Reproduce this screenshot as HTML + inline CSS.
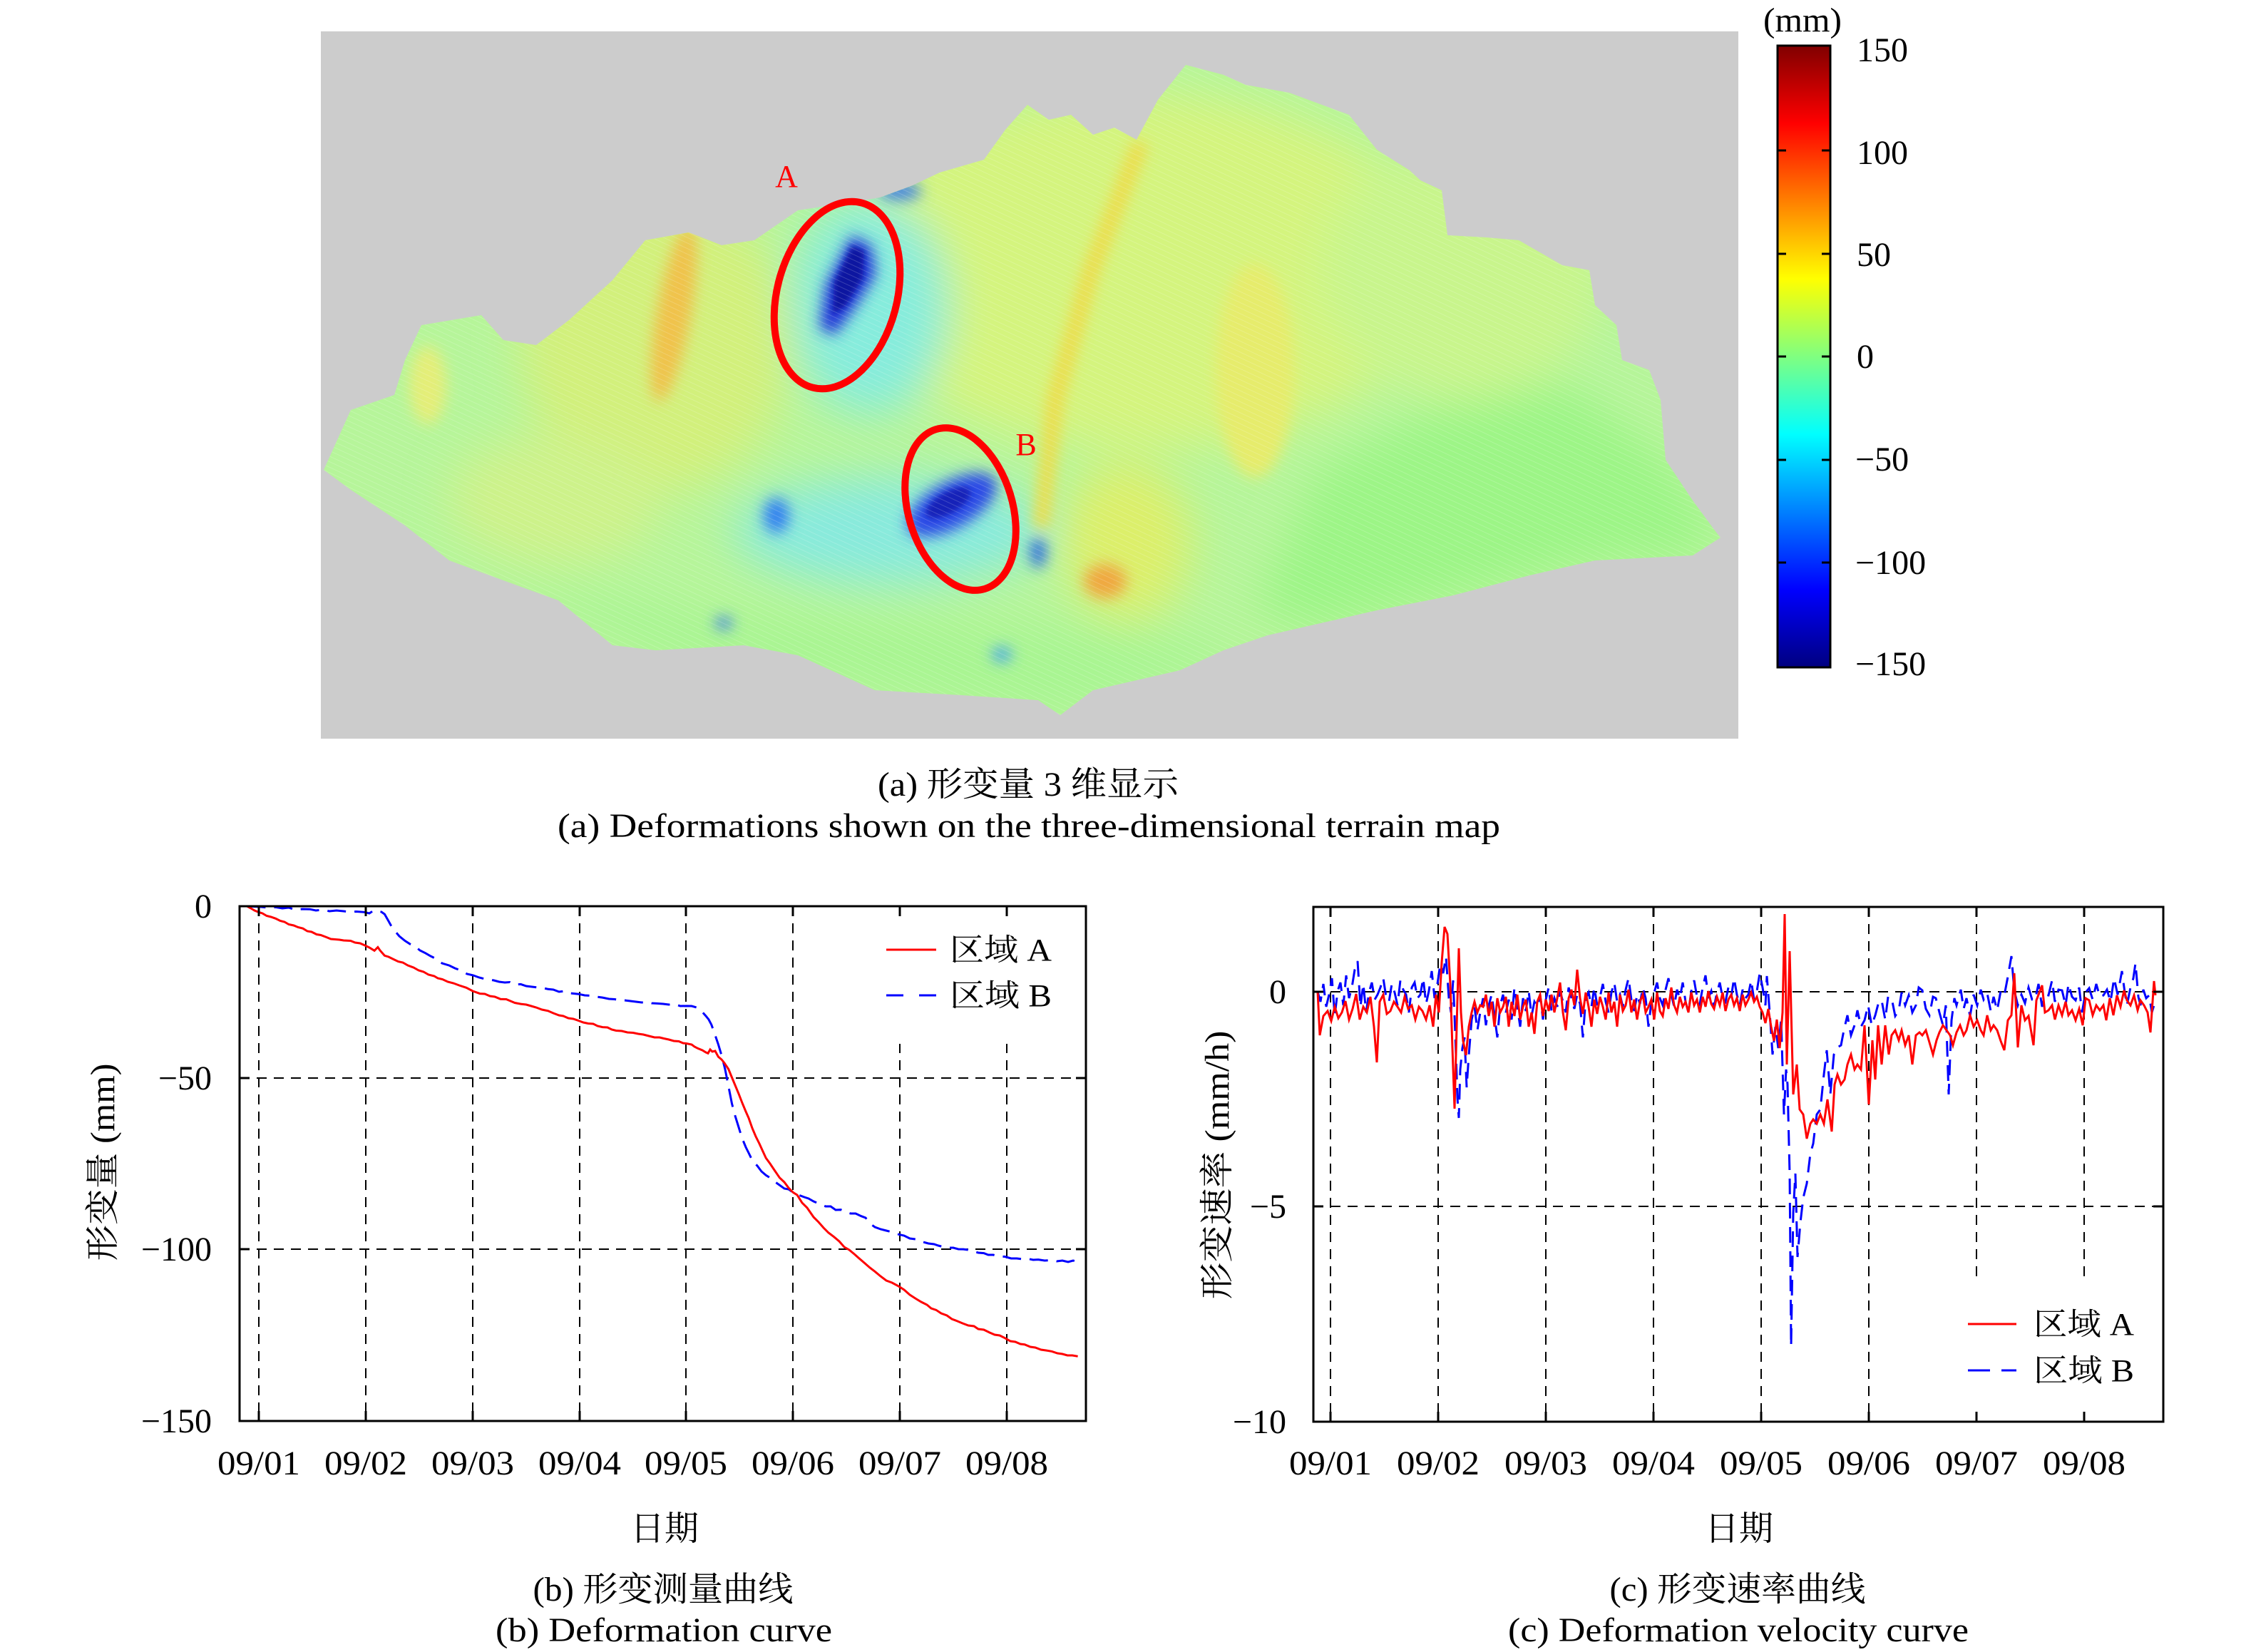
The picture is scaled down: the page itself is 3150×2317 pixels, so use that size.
<!DOCTYPE html>
<html><head><meta charset="utf-8"><style>
html,body{margin:0;padding:0;background:#fff;}
svg{display:block;}
text{font-family:"Liberation Serif","Noto Serif CJK SC",serif;fill:#000;}
</style></head><body>
<svg width="3150" height="2317" viewBox="0 0 3150 2317" xmlns="http://www.w3.org/2000/svg">
<defs>
<linearGradient id="jet" x1="0" y1="0" x2="0" y2="1">
<stop offset="0" stop-color="#800000"/><stop offset="0.125" stop-color="#ff0000"/>
<stop offset="0.375" stop-color="#ffff00"/><stop offset="0.5" stop-color="#80ff80"/>
<stop offset="0.625" stop-color="#00ffff"/><stop offset="0.875" stop-color="#0000ff"/>
<stop offset="1" stop-color="#000080"/></linearGradient>
<clipPath id="terr"><polygon points="454,659 492,575 553,554 568,505 591,456 675,442 706,477 752,484 798,449 859,393 905,337 966,326 1012,344 1058,337 1119,295 1211,281 1234,277 1280,260 1318,242 1380,224 1410,182 1441,147 1471,168 1502,161 1533,189 1563,179 1594,196 1624,140 1663,91 1716,105 1747,119 1808,130 1854,147 1892,161 1931,210 1977,239 1992,253 2022,267 2030,330 2084,333 2130,337 2191,372 2229,379 2237,428 2267,456 2275,505 2313,519 2329,561 2336,645 2374,702 2405,744 2413,754 2374,779 2237,786 2145,807 2038,835 1931,856 1839,877 1778,891 1716,912 1655,940 1594,954 1533,968 1487,1003 1456,982 1349,975 1227,968 1181,947 1119,919 1043,905 920,912 859,905 783,842 706,814 630,786 568,737 492,687"/></clipPath>
<filter id="b30" x="-50%" y="-50%" width="200%" height="200%"><feGaussianBlur stdDeviation="30"/></filter>
<filter id="b10" x="-50%" y="-50%" width="200%" height="200%"><feGaussianBlur stdDeviation="10"/></filter>
<filter id="b4" x="-50%" y="-50%" width="200%" height="200%"><feGaussianBlur stdDeviation="4"/></filter>
<pattern id="mesh" width="7" height="7" patternUnits="userSpaceOnUse" patternTransform="rotate(-65)">
<line x1="0" y1="0" x2="0" y2="7" stroke="#ffffff" stroke-width="1.6"/></pattern>
</defs>

<!-- ===== (a) terrain ===== -->
<rect x="450" y="44" width="1988" height="992" fill="#cccccc"/>
<g clip-path="url(#terr)">
<rect x="440" y="40" width="2000" height="1000" fill="#b6f59a"/>
<g filter="url(#b30)">
<ellipse cx="1600" cy="380" rx="420" ry="250" fill="#d4f47e"/>
<ellipse cx="920" cy="480" rx="190" ry="210" fill="#d2f07c"/>
<ellipse cx="780" cy="700" rx="150" ry="90" fill="#cdf28a"/>
<ellipse cx="2050" cy="380" rx="200" ry="180" fill="#c8f58c"/>
<polygon points="1850,660 2000,580 2200,540 2336,645 2413,754 2374,779 2237,786 2038,835 1850,880 1760,860" fill="#9cf586"/>
<polygon points="700,820 1000,860 1500,880 1716,900 1716,930 1487,1003 1227,968 920,920 783,850" fill="#a8f592"/>
<ellipse cx="1220" cy="430" rx="110" ry="150" fill="#86ecdc"/>
<ellipse cx="1250" cy="745" rx="220" ry="75" fill="#88eadc"/>
<ellipse cx="1580" cy="760" rx="90" ry="110" fill="#dcef6a"/>
</g>
<g filter="url(#b10)">
<ellipse cx="945" cy="440" rx="24" ry="125" transform="rotate(10 945 440)" fill="#f0c24c"/>
<ellipse cx="1550" cy="815" rx="30" ry="24" fill="#f0a840"/>
<ellipse cx="1760" cy="520" rx="55" ry="150" fill="#e6ec6c"/>
<path d="M1600,200 L1530,380 L1480,560 L1460,740" stroke="#eedc48" stroke-width="22" fill="none"/>
<ellipse cx="600" cy="540" rx="26" ry="55" fill="#e4ee78"/>
<polygon points="1195,330 1222,345 1228,385 1200,430 1170,470 1150,460 1158,400" fill="#2036d8"/>
<ellipse cx="1335" cy="708" rx="70" ry="32" transform="rotate(-30 1335 708)" fill="#2a4ae6"/>
<ellipse cx="1089" cy="723" rx="18" ry="25" fill="#3080f0"/>
<ellipse cx="1456" cy="775" rx="10" ry="22" fill="#2060e0"/>
<ellipse cx="1015" cy="874" rx="12" ry="8" fill="#3070f0"/>
<ellipse cx="1405" cy="918" rx="14" ry="10" fill="#40a0f0"/>
<ellipse cx="1262" cy="268" rx="30" ry="12" fill="#3a7ae6"/>
</g>
<g filter="url(#b4)">
<polygon points="1195,345 1212,352 1210,390 1185,430 1168,440 1170,395" fill="#0c12a0"/>
<ellipse cx="1330" cy="705" rx="35" ry="15" transform="rotate(-30 1330 705)" fill="#1624b8"/>
</g>
<rect x="440" y="40" width="2000" height="1000" fill="url(#mesh)" opacity="0.22"/>
</g>
<ellipse cx="1174" cy="414" rx="84" ry="134" transform="rotate(15 1174 414)" fill="none" stroke="#ff0000" stroke-width="10"/>
<ellipse cx="1347" cy="714" rx="73" ry="117" transform="rotate(-17 1347 714)" fill="none" stroke="#ff0000" stroke-width="10"/>
<text x="1103" y="262" font-size="44" text-anchor="middle" style="fill:#ff0000">A</text>
<text x="1439" y="638" font-size="44" text-anchor="middle" style="fill:#ff0000">B</text>

<!-- colorbar -->
<rect x="2493" y="64" width="74" height="872" fill="url(#jet)" stroke="#000" stroke-width="3"/>
<g stroke="#000" stroke-width="3">
<line x1="2493" y1="211" x2="2505" y2="211"/><line x1="2555" y1="211" x2="2567" y2="211"/>
<line x1="2493" y1="356" x2="2505" y2="356"/><line x1="2555" y1="356" x2="2567" y2="356"/>
<line x1="2493" y1="500" x2="2505" y2="500"/><line x1="2555" y1="500" x2="2567" y2="500"/>
<line x1="2493" y1="645" x2="2505" y2="645"/><line x1="2555" y1="645" x2="2567" y2="645"/>
<line x1="2493" y1="789" x2="2505" y2="789"/><line x1="2555" y1="789" x2="2567" y2="789"/>
</g>
<g font-size="48">
<text x="2528" y="44" text-anchor="middle" textLength="110" lengthAdjust="spacingAndGlyphs">(mm)</text>
<text x="2604" y="86">150</text>
<text x="2604" y="230">100</text>
<text x="2604" y="373">50</text>
<text x="2604" y="516">0</text>
<text x="2602" y="660">−50</text>
<text x="2602" y="805">−100</text>
<text x="2602" y="947">−150</text>
</g>
<text x="1442" y="1116" font-size="48" text-anchor="middle" textLength="422" lengthAdjust="spacingAndGlyphs">(a) 形变量 3 维显示</text>
<text x="1443" y="1174" font-size="48" text-anchor="middle" textLength="1322" lengthAdjust="spacingAndGlyphs">(a) Deformations shown on the three-dimensional terrain map</text>

<!-- ===== (b) chart ===== -->
<g stroke="#000" stroke-width="2" stroke-dasharray="14 10" fill="none">
<line x1="363" y1="1271" x2="363" y2="1993"/><line x1="513" y1="1271" x2="513" y2="1993"/>
<line x1="663" y1="1271" x2="663" y2="1993"/><line x1="813" y1="1271" x2="813" y2="1993"/>
<line x1="962" y1="1271" x2="962" y2="1993"/><line x1="1112" y1="1271" x2="1112" y2="1993"/>
<line x1="1262" y1="1271" x2="1262" y2="1993"/><line x1="1412" y1="1271" x2="1412" y2="1993"/>
<line x1="336" y1="1512" x2="1523" y2="1512"/><line x1="336" y1="1752" x2="1523" y2="1752"/>
</g>
<rect x="1225" y="1274" width="296" height="190" fill="#fff"/>
<polyline fill="none" stroke="#0000ff" stroke-width="3" stroke-dasharray="26 12" points="346.5,1271 356,1271.5 366,1272 376,1273 386.6,1272.4 396,1274 405,1273 414,1276 424,1275 434.4,1275.2 443,1277 452,1276 462,1278 472,1277 482.1,1278 491,1279 500,1278.5 510.8,1279.3 518,1281 524,1277 529.9,1278 535,1279 539.4,1282.1 545,1292 550,1301 553.7,1305.6 560,1313 568,1319.5 575,1324 582,1327 589,1333 596.7,1336.8 604,1341 612,1345 620,1351 630.1,1354.1 638,1358 646,1361 655,1366 663.5,1367.9 672,1371 680,1373 686,1374 692.2,1374.9 700,1377 708,1378 715,1377.5 722,1381 730.4,1380.4 738,1383 746,1384 754,1385 761,1385.5 768.6,1387.3 776,1388 784,1391 792,1390 800,1393 811.6,1394.2 820,1396 828,1396.5 836,1398 845,1399.1 854,1401 862,1401.5 870,1403 876,1403 883.2,1403.9 892,1405 900,1406 908,1405.5 914,1407 921.4,1407.4 930,1408 938,1409 946,1408 954,1411 962.5,1410.9 970,1411 977,1413 983.5,1417.8 990,1425 994,1430 997.8,1437.2 1002,1449 1007.4,1464.8 1012,1480 1016.9,1499.5 1021,1520 1026.5,1547.9 1031,1565 1036,1581 1040.8,1596.4 1046,1609 1050,1617 1055.1,1627.5 1062,1635 1068,1643 1074.2,1648.3 1080,1652 1086,1657 1093.3,1662.1 1100,1667 1106,1668 1112.4,1672.5 1120,1676 1128,1679 1134,1681 1141.1,1685 1150,1689 1158,1692 1165,1692 1172,1697 1179.3,1696.7 1186,1700 1193,1702 1200,1702 1207.9,1705.7 1214,1708 1220,1716 1227,1721 1235,1724 1243,1726 1251,1728 1260.4,1731.3 1268,1733 1276,1737 1284,1738 1293.9,1741.7 1302,1744 1310,1745 1316,1747 1322.5,1748.7 1330,1750 1337,1750 1344,1752 1351.2,1752.1 1358,1753 1365,1755 1372,1757 1379.8,1757.6 1386,1760 1393,1760 1400,1762 1409.4,1762.5 1418,1765 1426,1765 1434,1766 1442,1765.5 1449,1767 1456.2,1766.6 1465,1768 1474,1767.5 1482,1769 1490,1768 1498,1770 1505,1768 1511.6,1769.4"/>
<polyline fill="none" stroke="#ff0000" stroke-width="3" points="346.5,1271 352,1274 357,1277 362.7,1279.3 368,1281 374,1284.5 380,1286 386.6,1288.3 393,1291.5 399,1293 405,1296.5 412,1298 418,1300.5 424.8,1302.2 431,1306 437,1307 444,1310.5 450,1311.5 458.2,1314.6 464,1317 470,1317.5 476,1318 482,1319 491.7,1319.5 498,1322 505,1323 512.7,1326.4 518,1329 525.1,1333.3 529.9,1328.5 533,1333 539.4,1340.3 545,1342 551,1345 558.5,1348.6 565,1350 572,1354 580,1357 587.2,1361 594,1363 601,1367 609,1369 614,1372 620.6,1373.5 628,1377 636,1379 644,1382 654,1385.3 663,1390 673.1,1393.6 680,1394 687,1397 694,1398 701.8,1401.2 710,1401.5 716,1404 722,1406.5 730.4,1408.1 738,1409 745,1411 752,1413 760,1416 768.6,1417.8 776,1421 784,1424 790,1425 797,1428 804,1429 811.6,1431.6 818,1434 825,1435.5 832,1436 838,1439 845,1440.6 852,1441 858,1444 864.1,1445.5 872,1446 880,1448 888,1448.5 895,1450 902.3,1451 910,1453 918,1455 925,1455 931,1456.5 938,1458 945,1460 952,1460.5 958,1463 962.5,1463.5 970,1465 974,1468 978.7,1470.4 985,1473 990,1476 993,1477.3 996,1472 999,1475 1003,1474 1007.4,1482.2 1012,1486 1016,1491 1021.7,1499.5 1026,1510 1031,1522 1036,1534.1 1041,1547 1046,1559 1050,1568 1055.1,1582.5 1060,1594 1065,1604 1070,1615 1074.2,1624.1 1080,1632 1086,1641 1093.3,1651.7 1100,1658 1106,1666 1112.4,1672.5 1118,1676 1125,1687 1132,1694 1141.1,1707.1 1148,1714 1155,1722 1162,1729 1169.7,1734.8 1177,1741 1184,1749 1191,1753 1198.4,1759.1 1205,1765 1212,1771 1220,1778 1227,1783.3 1235,1790 1243,1796 1251,1799 1260.4,1804.1 1268,1809 1276,1816 1284.3,1821.4 1292,1826 1300,1830 1306,1835 1312.9,1837.3 1320,1842 1328,1845 1335,1850 1341.6,1852.5 1350,1856 1358,1859 1366,1860 1372,1864 1379.8,1865 1388,1869 1395,1872 1402,1873 1409.4,1876.7 1417,1881 1424,1882 1431,1885 1437.1,1885.7 1445,1889 1452,1890 1460,1893 1467,1894 1475.3,1895.4 1483,1898 1490,1899 1497,1901 1504,1901 1511.6,1902.3"/>
<g stroke="#000" stroke-width="3" fill="none">
<rect x="336" y="1271" width="1187" height="722"/>
<path d="M363,1993v-14M513,1993v-14M663,1993v-14M813,1993v-14M962,1993v-14M1112,1993v-14M1262,1993v-14M1412,1993v-14M363,1271v14M513,1271v14M663,1271v14M813,1271v14M962,1271v14M1112,1271v14M1262,1271v14M1412,1271v14M336,1512h14M336,1752h14M1523,1512h-14M1523,1752h-14"/>
</g>
<line x1="1243" y1="1332" x2="1313" y2="1332" stroke="#ff0000" stroke-width="3"/>
<line x1="1243" y1="1396" x2="1313" y2="1396" stroke="#0000ff" stroke-width="3" stroke-dasharray="24 22"/>
<text x="1332" y="1347" font-size="44" textLength="143" lengthAdjust="spacingAndGlyphs">区域 A</text>
<text x="1332" y="1411" font-size="44" textLength="143" lengthAdjust="spacingAndGlyphs">区域 B</text>
<g font-size="48" text-anchor="end">
<text x="297" y="1287">0</text><text x="297" y="1528">−50</text>
<text x="297" y="1768">−100</text><text x="297" y="2009">−150</text>
</g>
<g font-size="48" text-anchor="middle">
<text x="363" y="2068" textLength="116" lengthAdjust="spacingAndGlyphs">09/01</text><text x="513" y="2068" textLength="116" lengthAdjust="spacingAndGlyphs">09/02</text><text x="663" y="2068" textLength="116" lengthAdjust="spacingAndGlyphs">09/03</text><text x="813" y="2068" textLength="116" lengthAdjust="spacingAndGlyphs">09/04</text>
<text x="962" y="2068" textLength="116" lengthAdjust="spacingAndGlyphs">09/05</text><text x="1112" y="2068" textLength="116" lengthAdjust="spacingAndGlyphs">09/06</text><text x="1262" y="2068" textLength="116" lengthAdjust="spacingAndGlyphs">09/07</text><text x="1412" y="2068" textLength="116" lengthAdjust="spacingAndGlyphs">09/08</text>
<text x="932" y="2160">日期</text>
<text x="930" y="2245" textLength="365" lengthAdjust="spacingAndGlyphs">(b) 形变测量曲线</text>
<text x="931" y="2302" textLength="472" lengthAdjust="spacingAndGlyphs">(b) Deformation curve</text>
</g>
<text transform="translate(160,1630) rotate(-90)" font-size="48" text-anchor="middle" textLength="277" lengthAdjust="spacingAndGlyphs">形变量 (mm)</text>

<!-- ===== (c) chart ===== -->
<g stroke="#000" stroke-width="2" stroke-dasharray="14 10" fill="none">
<line x1="1866" y1="1272" x2="1866" y2="1994"/><line x1="2017" y1="1272" x2="2017" y2="1994"/>
<line x1="2168" y1="1272" x2="2168" y2="1994"/><line x1="2319" y1="1272" x2="2319" y2="1994"/>
<line x1="2470" y1="1272" x2="2470" y2="1994"/><line x1="2621" y1="1272" x2="2621" y2="1994"/>
<line x1="2772" y1="1272" x2="2772" y2="1994"/><line x1="2923" y1="1272" x2="2923" y2="1994"/>
<line x1="1842" y1="1391" x2="3034" y2="1391"/><line x1="1842" y1="1692" x2="3034" y2="1692"/>
</g>
<rect x="2745" y="1793" width="287" height="199" fill="#fff"/>
<polyline fill="none" stroke="#0000ff" stroke-width="3" stroke-dasharray="22 12" points="1848,1391 1852,1405 1856,1380 1860,1412 1864,1395 1868,1372 1872,1425 1876,1390 1880,1378 1884,1410 1888,1368 1892,1400 1896,1385 1900,1360 1904,1348 1908,1412 1912,1380 1916,1420 1920,1392 1924,1378 1928,1402 1932,1395 1936,1385 1940,1372 1944,1398 1948,1405 1952,1380 1956,1392 1960,1410 1964,1375 1968,1388 1972,1395 1976,1420 1980,1385 1984,1378 1988,1400 1992,1395 1996,1372 2000,1408 2004,1390 2008,1362 2012,1400 2016,1380 2020,1352 2024,1365 2028,1342 2032,1400 2035,1420 2038,1375 2041,1450 2044,1540 2046,1568 2048,1500 2051,1470 2054,1455 2057,1525 2060,1480 2064,1430 2068,1412 2072,1445 2076,1420 2080,1400 2084,1438 2088,1410 2092,1395 2096,1425 2100,1455 2104,1410 2108,1395 2112,1420 2116,1402 2120,1430 2124,1385 2128,1412 2132,1440 2136,1400 2140,1418 2144,1390 2148,1425 2152,1405 2156,1412 2160,1395 2164,1430 2168,1402 2172,1385 2176,1418 2180,1400 2184,1412 2188,1390 2192,1405 2196,1420 2200,1385 2204,1400 2208,1415 2212,1395 2216,1408 2220,1455 2224,1400 2228,1392 2232,1412 2236,1385 2240,1410 2244,1398 2248,1380 2252,1405 2256,1420 2260,1392 2264,1378 2268,1405 2272,1395 2276,1412 2280,1388 2284,1372 2288,1402 2292,1418 2296,1395 2300,1408 2304,1385 2308,1400 2312,1440 2316,1405 2320,1392 2324,1378 2328,1400 2332,1410 2336,1388 2340,1372 2344,1395 2348,1412 2352,1388 2356,1400 2360,1378 2364,1405 2368,1420 2372,1390 2376,1375 2380,1398 2384,1408 2388,1385 2392,1368 2396,1400 2400,1390 2404,1412 2408,1392 2412,1378 2416,1400 2420,1405 2424,1385 2428,1398 2432,1372 2436,1395 2440,1410 2444,1388 2448,1400 2452,1395 2456,1375 2460,1402 2464,1390 2468,1365 2472,1385 2476,1410 2478,1369 2482,1420 2486,1479 2490,1440 2494,1470 2498,1430 2502,1563 2505,1500 2507,1521 2510,1646 2512,1888 2515,1701 2518,1646 2521,1763 2525,1715 2529,1680 2534,1660 2539,1618 2543,1604 2548,1563 2553,1556 2558,1507 2562,1473 2567,1535 2572,1479 2577,1469 2582,1466 2586,1445 2591,1424 2596,1452 2601,1438 2605,1417 2610,1440 2615,1431 2620,1410 2625,1438 2630,1424 2635,1405 2639,1403 2644,1430 2648,1398 2653,1400 2658,1425 2663,1417 2667,1392 2672,1410 2677,1396 2682,1420 2687,1410 2691,1385 2696,1389 2701,1415 2706,1424 2711,1398 2715,1400 2720,1420 2725,1438 2729,1410 2733,1535 2737,1431 2741,1400 2744,1410 2750,1388 2754,1415 2758,1400 2763,1425 2768,1395 2773,1410 2778,1388 2782,1402 2787,1393 2792,1418 2796,1398 2801,1417 2806,1390 2811,1396 2816,1370 2821,1341 2825,1389 2830,1410 2835,1395 2840,1407 2845,1385 2850,1402 2854,1403 2859,1380 2864,1412 2868,1395 2873,1396 2878,1375 2882,1405 2887,1388 2892,1389 2897,1410 2901,1380 2906,1398 2911,1403 2916,1385 2920,1420 2925,1392 2930,1386 2935,1402 2940,1380 2945,1398 2950,1396 2955,1388 2960,1405 2965,1372 2970,1395 2976,1362 2980,1392 2983,1410 2988,1385 2992,1372 2995,1351 2999,1398 3002,1410 3006,1388 3010,1400 3014,1396 3018,1420 3023,1403"/>
<polyline fill="none" stroke="#ff0000" stroke-width="3" points="1848,1391 1851,1452 1856,1425 1862,1418 1867,1432 1872,1412 1877,1428 1882,1420 1887,1404 1892,1430 1897,1415 1902,1394 1907,1430 1912,1412 1917,1420 1922,1398 1927,1440 1931,1490 1935,1405 1940,1395 1945,1422 1950,1418 1955,1405 1960,1412 1965,1420 1970,1398 1975,1415 1980,1410 1985,1430 1990,1412 1995,1418 2000,1430 2005,1410 2010,1440 2014,1395 2018,1420 2022,1350 2026,1300 2030,1310 2034,1380 2037,1470 2040,1555 2043,1440 2046,1330 2049,1420 2052,1460 2056,1480 2060,1440 2064,1420 2068,1405 2072,1420 2076,1410 2080,1412 2084,1395 2088,1425 2092,1405 2096,1440 2100,1400 2104,1420 2108,1412 2112,1398 2116,1440 2120,1405 2124,1425 2128,1395 2132,1430 2136,1412 2140,1402 2144,1440 2148,1420 2152,1450 2156,1405 2160,1395 2164,1425 2168,1402 2172,1418 2176,1395 2180,1420 2184,1400 2188,1378 2192,1420 2196,1445 2200,1400 2204,1388 2208,1410 2212,1360 2216,1400 2220,1422 2224,1392 2228,1412 2232,1440 2236,1402 2240,1422 2244,1398 2248,1412 2252,1430 2256,1392 2260,1420 2264,1405 2268,1440 2272,1395 2276,1418 2280,1410 2284,1388 2288,1420 2292,1402 2296,1430 2300,1405 2304,1395 2308,1420 2312,1412 2316,1402 2320,1430 2324,1392 2328,1418 2332,1425 2336,1400 2340,1415 2344,1385 2348,1410 2352,1420 2356,1398 2360,1412 2364,1405 2368,1420 2372,1392 2376,1410 2380,1402 2384,1420 2388,1398 2392,1412 2396,1390 2400,1408 2404,1415 2408,1398 2412,1410 2416,1392 2420,1418 2424,1402 2428,1395 2432,1410 2436,1400 2440,1418 2444,1395 2448,1410 2452,1402 2456,1392 2460,1405 2464,1398 2468,1412 2472,1420 2476,1435 2480,1415 2484,1440 2488,1460 2492,1430 2496,1470 2500,1420 2503,1282 2506,1493 2510,1334 2515,1535 2520,1493 2524,1556 2529,1563 2534,1597 2539,1576 2543,1570 2548,1576 2553,1563 2558,1576 2563,1542 2569,1587 2573,1521 2577,1507 2582,1521 2587,1514 2591,1493 2596,1479 2601,1500 2605,1493 2610,1500 2615,1438 2621,1549 2626,1459 2630,1514 2634,1438 2639,1493 2644,1438 2649,1479 2653,1452 2658,1445 2663,1459 2667,1445 2672,1466 2677,1452 2682,1493 2687,1452 2692,1448 2696,1452 2701,1445 2706,1462 2711,1479 2716,1459 2720,1448 2725,1438 2730,1445 2735,1452 2739,1466 2744,1448 2749,1438 2754,1452 2758,1445 2763,1424 2768,1440 2773,1431 2778,1445 2782,1452 2787,1424 2792,1445 2796,1438 2801,1445 2806,1460 2811,1473 2816,1431 2821,1424 2825,1365 2830,1469 2835,1410 2840,1431 2845,1425 2852,1466 2856,1403 2864,1382 2868,1420 2873,1417 2878,1410 2882,1430 2887,1410 2892,1424 2897,1405 2901,1424 2906,1417 2911,1431 2916,1415 2921,1438 2925,1400 2930,1403 2935,1424 2940,1410 2945,1417 2950,1410 2954,1431 2959,1400 2964,1424 2969,1396 2974,1412 2979,1389 2983,1403 2988,1410 2993,1396 2998,1417 3002,1403 3007,1410 3012,1420 3016,1448 3021,1376 3023,1396"/>
<g stroke="#000" stroke-width="3" fill="none">
<rect x="1842" y="1272" width="1192" height="722"/>
<path d="M1866,1994v-14M2017,1994v-14M2168,1994v-14M2319,1994v-14M2470,1994v-14M2621,1994v-14M2772,1994v-14M2923,1994v-14M1866,1272v14M2017,1272v14M2168,1272v14M2319,1272v14M2470,1272v14M2621,1272v14M2772,1272v14M2923,1272v14M1842,1391h14M1842,1692h14M3034,1391h-14M3034,1692h-14"/>
</g>
<line x1="2760" y1="1857" x2="2828" y2="1857" stroke="#ff0000" stroke-width="3"/>
<line x1="2760" y1="1922" x2="2828" y2="1922" stroke="#0000ff" stroke-width="3" stroke-dasharray="31 16"/>
<text x="2852" y="1872" font-size="44" textLength="141" lengthAdjust="spacingAndGlyphs">区域 A</text>
<text x="2852" y="1937" font-size="44" textLength="141" lengthAdjust="spacingAndGlyphs">区域 B</text>
<g font-size="48" text-anchor="end">
<text x="1804" y="1407">0</text><text x="1804" y="1708">−5</text><text x="1804" y="2010">−10</text>
</g>
<g font-size="48" text-anchor="middle">
<text x="1866" y="2068" textLength="116" lengthAdjust="spacingAndGlyphs">09/01</text><text x="2017" y="2068" textLength="116" lengthAdjust="spacingAndGlyphs">09/02</text><text x="2168" y="2068" textLength="116" lengthAdjust="spacingAndGlyphs">09/03</text><text x="2319" y="2068" textLength="116" lengthAdjust="spacingAndGlyphs">09/04</text>
<text x="2470" y="2068" textLength="116" lengthAdjust="spacingAndGlyphs">09/05</text><text x="2621" y="2068" textLength="116" lengthAdjust="spacingAndGlyphs">09/06</text><text x="2772" y="2068" textLength="116" lengthAdjust="spacingAndGlyphs">09/07</text><text x="2923" y="2068" textLength="116" lengthAdjust="spacingAndGlyphs">09/08</text>
<text x="2439" y="2160">日期</text>
<text x="2437" y="2245" textLength="359" lengthAdjust="spacingAndGlyphs">(c) 形变速率曲线</text>
<text x="2438" y="2302" textLength="646" lengthAdjust="spacingAndGlyphs">(c) Deformation velocity curve</text>
</g>
<text transform="translate(1723,1634) rotate(-90)" font-size="48" text-anchor="middle" textLength="377" lengthAdjust="spacingAndGlyphs">形变速率 (mm/h)</text>
</svg>
</body></html>
